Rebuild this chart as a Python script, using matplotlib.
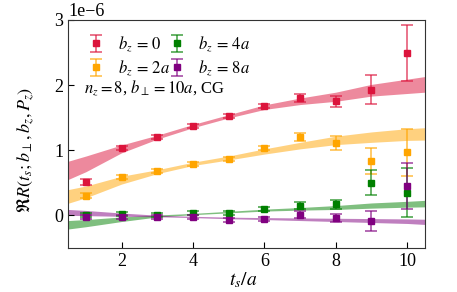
import matplotlib
matplotlib.use('Agg')
import matplotlib.pyplot as plt
import numpy as np

plt.rcParams['font.family'] = ['Liberation Serif', 'DejaVu Serif']
plt.rcParams['mathtext.fontset'] = 'stix'

# data points (units of 1e-6)
ts = [1, 2, 3, 4, 5, 6, 7, 8, 9, 10]
labels = [r'$b_z\,{=}\,0$', r'$b_z\,{=}\,2a$', r'$b_z\,{=}\,4a$', r'$b_z\,{=}\,8a$']
colors = ['#DC143C', '#FFA500', '#008000', '#800080']

y_bz0 = [0.51, 1.04, 1.20, 1.37, 1.52, 1.68, 1.80, 1.75, 1.93, 2.49]
e_bz0 = [0.04, 0.03, 0.03, 0.03, 0.03, 0.03, 0.06, 0.085, 0.22, 0.43]
y_bz2 = [0.30, 0.59, 0.68, 0.79, 0.86, 1.03, 1.20, 1.11, 0.83, 0.97]
e_bz2 = [0.04, 0.03, 0.03, 0.03, 0.03, 0.03, 0.06, 0.10, 0.20, 0.36]
y_bz4 = [0.00, 0.02, 0.01, 0.03, 0.04, 0.10, 0.15, 0.17, 0.50, 0.35]
e_bz4 = [0.03, 0.03, 0.03, 0.03, 0.03, 0.03, 0.05, 0.07, 0.19, 0.37]
y_bz8 = [-0.03, -0.03, -0.02, -0.02, -0.07, -0.05, 0.01, -0.04, -0.09, 0.45]
e_bz8 = [0.03, 0.03, 0.03, 0.03, 0.03, 0.03, 0.05, 0.06, 0.155, 0.35]

# fit bands read at these t values
t_band = [0.5, 1, 2, 3, 4, 5, 6, 7, 8, 9, 10, 10.5]
c_bz0 = [0.69, 0.79, 1.02, 1.20, 1.37, 1.52, 1.66, 1.75, 1.82, 1.92, 1.98, 2.01]
h_bz0 = [0.14, 0.12, 0.06, 0.03, 0.025, 0.025, 0.035, 0.05, 0.07, 0.09, 0.11, 0.12]
c_bz2 = [0.29, 0.36, 0.54, 0.67, 0.79, 0.88, 0.98, 1.07, 1.15, 1.20, 1.24, 1.25]
h_bz2 = [0.105, 0.09, 0.06, 0.03, 0.025, 0.03, 0.04, 0.05, 0.065, 0.08, 0.09, 0.095]
c_bz4 = [-0.145, -0.12, -0.06, -0.01, 0.02, 0.05, 0.08, 0.10, 0.12, 0.15, 0.17, 0.18]
h_bz4 = [0.065, 0.055, 0.035, 0.015, 0.01, 0.012, 0.015, 0.02, 0.03, 0.04, 0.045, 0.05]
c_bz8 = [0.045, 0.035, 0.01, -0.01, -0.025, -0.04, -0.05, -0.06, -0.07, -0.08, -0.09, -0.10]
h_bz8 = [0.045, 0.04, 0.025, 0.012, 0.01, 0.012, 0.015, 0.02, 0.025, 0.03, 0.035, 0.04]

ys = [y_bz0, y_bz2, y_bz4, y_bz8]
es = [e_bz0, e_bz2, e_bz4, e_bz8]
cs = [c_bz0, c_bz2, c_bz4, c_bz8]
hs = [h_bz0, h_bz2, h_bz4, h_bz8]

fig = plt.figure(figsize=(4.57, 2.92), dpi=100)
ax = fig.add_axes([0.149, 0.151, 0.781, 0.781])

scale = 1e-6
for y, e, c, h, col, lab in zip(ys, es, cs, hs, colors, labels):
    c = np.array(c) * scale
    h = np.array(h) * scale
    ax.fill_between(t_band, c - h, c + h, color=col, alpha=0.5, lw=0)
    eb = ax.errorbar(ts, np.array(y) * scale, yerr=np.array(e) * scale,
                     fmt='s', color=col, ms=5, capsize=4, elinewidth=1.1,
                     capthick=1.1, label=lab)
    for line in eb[1] + eb[2]:
        line.set_alpha(0.75)

ax.set_xlim(0.5, 10.5)
ax.set_ylim(-0.5e-6, 3e-6)
ax.set_xticks([2, 4, 6, 8, 10])
ax.set_yticks([0, 1e-6, 2e-6, 3e-6])
ax.tick_params(direction='in', labelsize=13, length=4)
ax.yaxis.get_offset_text().set_fontsize(13)
for s in ax.spines.values():
    s.set_color('#333333')

ax.set_xlabel(r'$t_s/a$', fontsize=14)
ax.xaxis.set_label_coords(0.49, -0.1)
ax.set_ylabel(r'$\Re R(t_s; b_\perp, b_z, P_z)$', fontsize=13)
ax.yaxis.set_label_coords(-0.087, 0.43)

ax.legend(ncol=2, loc='upper left', frameon=False, fontsize=12,
          handlelength=1.6, handletextpad=0.5, columnspacing=-0.4,
          borderaxespad=0.5, labelspacing=0.3)
ax.text(0.045, 0.70, r'$n_z=8$, $b_\perp=10a$, CG', transform=ax.transAxes,
        fontsize=12, va='center')

fig.savefig('out.png', dpi=100)
